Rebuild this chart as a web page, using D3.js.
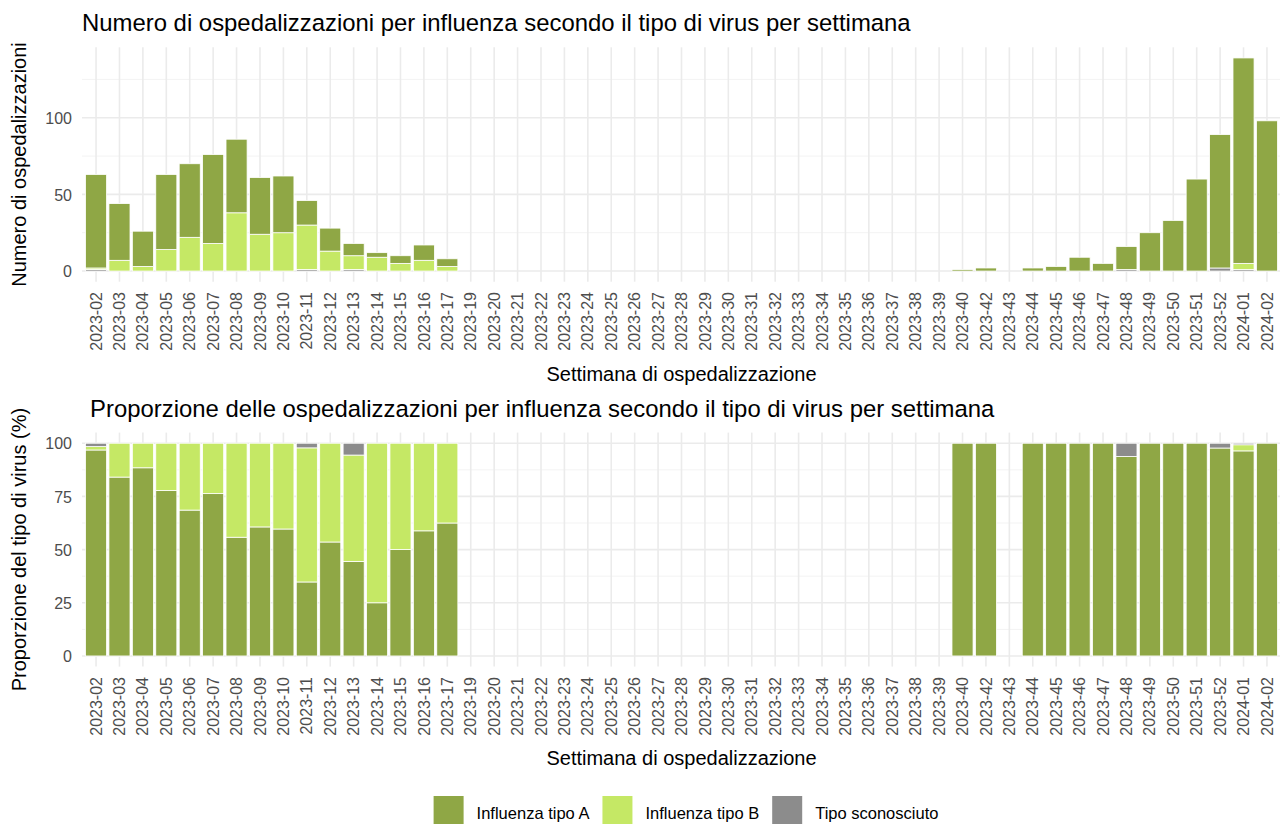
<!DOCTYPE html>
<html>
<head>
<meta charset="utf-8">
<script src="https://cdn.jsdelivr.net/npm/d3@7"></script>
<style>
  html, body { margin: 0; padding: 0; background: #ffffff; }
  svg { display: block; }
  text { font-family: "Liberation Sans", Arial, sans-serif; }
</style>
</head>
<body>
<svg id="chart" width="1280" height="824"></svg>
<script>
// ---------------- DATA ----------------
const weeks = [
  "2023-02","2023-03","2023-04","2023-05","2023-06","2023-07","2023-08","2023-09",
  "2023-10","2023-11","2023-12","2023-13","2023-14","2023-15","2023-16","2023-17",
  "2023-19","2023-20","2023-21","2023-22","2023-23","2023-24","2023-25","2023-26",
  "2023-27","2023-28","2023-29","2023-30","2023-31","2023-32","2023-33","2023-34",
  "2023-35","2023-36","2023-37","2023-38","2023-39","2023-40","2023-42","2023-43",
  "2023-44","2023-45","2023-46","2023-47","2023-48","2023-49","2023-50","2023-51",
  "2023-52","2024-01","2024-02"
];
const influenzaA = [
  61,37,23,49,48,58,48,37,37,16,15,8,3,5,10,5,
  0,0,0,0,0,0,0,0,0,0,0,0,0,0,0,0,0,0,0,0,0,
  1,2,0,2,3,9,5,15,25,33,60,87,134,98
];
const influenzaB = [
  1,7,3,14,22,18,38,24,25,29,13,9,9,5,7,3,
  0,0,0,0,0,0,0,0,0,0,0,0,0,0,0,0,0,0,0,0,0,
  0,0,0,0,0,0,0,0,0,0,0,0,4,0
];
const sconosciuto = [
  1,0,0,0,0,0,0,0,0,1,0,1,0,0,0,0,
  0,0,0,0,0,0,0,0,0,0,0,0,0,0,0,0,0,0,0,0,0,
  0,0,0,0,0,0,0,1,0,0,0,2,1,0
];
const seriesKeys = ["A", "B", "U"];
const seriesLabels = ["Influenza tipo A", "Influenza tipo B", "Tipo sconosciuto"];
const seriesColors = ["#8FA745", "#C5E865", "#8C8C8C"];
const countBreaks = [0, 50, 100];
const countMinor = [25, 75, 125];
const pctBreaks = [0, 25, 50, 75, 100];
const pctMinor = [12.5, 37.5, 62.5, 87.5];
const title1 = "Numero di ospedalizzazioni per influenza secondo il tipo di virus per settimana";
const title2 = "Proporzione delle ospedalizzazioni per influenza secondo il tipo di virus per settimana";
const yTitle1 = "Numero di ospedalizzazioni";
const yTitle2 = "Proporzione del tipo di virus (%)";
const xTitle = "Settimana di ospedalizzazione";

// ---------------- SETUP ----------------
const rows = weeks.map((w, i) => ({ week: w, A: influenzaA[i], B: influenzaB[i], U: sconosciuto[i] }));
const color = d3.scaleOrdinal().domain(seriesKeys).range(seriesColors);
const svg = d3.select("#chart");
const FONT_TICK = 16, FONT_AXIS = 20, FONT_TITLE = 23.9, FONT_LEGEND = 16.5;
const TICK_COLOR = "#4d4d4d";

const x = d3.scaleBand().domain(weeks).range([82, 1281]).paddingInner(0.1).paddingOuter(0.15);

function drawPanel(cfg) {
  const { top, bottom, y, breaks, minor, stacked, titleText, titleX, titleY, yTitleText, xLabelY, xTitleY, fmt } = cfg;
  const g = svg.append("g");
  const [x0, x1] = x.range();
  // minor grid
  g.append("g").selectAll("line").data(minor).join("line")
    .attr("x1", x0).attr("x2", x1).attr("y1", d => y(d)).attr("y2", d => y(d))
    .attr("stroke", "#f3f3f3").attr("stroke-width", 1);
  // major grid horizontal
  g.append("g").selectAll("line").data(breaks).join("line")
    .attr("x1", x0).attr("x2", x1).attr("y1", d => y(d)).attr("y2", d => y(d))
    .attr("stroke", "#ebebeb").attr("stroke-width", 1.6);
  // vertical grid
  g.append("g").selectAll("line").data(weeks).join("line")
    .attr("x1", d => x(d) + x.bandwidth() / 2).attr("x2", d => x(d) + x.bandwidth() / 2)
    .attr("y1", top).attr("y2", bottom)
    .attr("stroke", "#ebebeb").attr("stroke-width", 1.6);

  // bars
  const layer = g.append("g").selectAll("g").data(stacked).join("g")
    .attr("fill", d => color(d.key));
  layer.selectAll("rect").data(d => d.filter(p => p[1] - p[0] > 0)).join("rect")
    .attr("x", d => x(d.data.week))
    .attr("width", x.bandwidth())
    .attr("y", d => y(d[1]))
    .attr("height", d => y(d[0]) - y(d[1]))
    .attr("stroke", "#ffffff").attr("stroke-width", 0.8);

  // y axis
  const ya = g.append("g").attr("transform", "translate(72,0)")
    .call(d3.axisLeft(y).tickValues(breaks).tickSize(0).tickPadding(0).tickFormat(fmt));
  ya.select(".domain").remove();
  ya.selectAll("text").attr("fill", TICK_COLOR).attr("font-size", FONT_TICK)
    .attr("font-family", "Liberation Sans, Arial, sans-serif").attr("dy", "0.35em");

  // x axis
  const xa = g.append("g").attr("transform", `translate(0,${xLabelY})`)
    .call(d3.axisBottom(x).tickSize(0).tickPadding(0));
  xa.select(".domain").remove();
  xa.selectAll("text")
    .attr("y", 0).attr("x", 0).attr("dy", "0.35em")
    .attr("transform", "rotate(-90)")
    .attr("text-anchor", "end")
    .attr("fill", TICK_COLOR).attr("font-size", FONT_TICK)
    .attr("font-family", "Liberation Sans, Arial, sans-serif");

  // titles
  g.append("text").attr("x", titleX).attr("y", titleY).attr("font-size", FONT_TITLE)
    .attr("fill", "#000").text(titleText);
  g.append("text").attr("transform", `translate(${x0 + (x1 - x0) / 2},${xTitleY})`)
    .attr("text-anchor", "middle").attr("font-size", FONT_AXIS).attr("fill", "#000").text(xTitle);
  g.append("text").attr("transform", `translate(26,${(top + bottom) / 2}) rotate(-90)`)
    .attr("text-anchor", "middle").attr("font-size", FONT_AXIS).attr("fill", "#000").text(yTitleText);
}

// ---------------- TOP: counts ----------------
const stackTop = d3.stack().keys(["U", "B", "A"])(rows);
const maxCount = d3.max(rows, d => d.A + d.B + d.U);
const top1 = 47.3, bot1 = 281.7;
const yCount = d3.scaleLinear().domain([-0.05 * maxCount, maxCount * 1.05]).range([bot1, top1]);
drawPanel({
  top: top1, bottom: bot1, y: yCount, breaks: countBreaks, minor: countMinor,
  stacked: stackTop, titleText: title1, titleX: 82, titleY: 31, yTitleText: yTitle1,
  xLabelY: 292, xTitleY: 381, fmt: d3.format("d")
});

// ---------------- BOTTOM: proportions ----------------
const stackPct = d3.stack().keys(["A", "B", "U"]).offset(d3.stackOffsetExpand)(rows);
stackPct.forEach(s => s.forEach(p => { p[0] *= 100; p[1] *= 100; }));
const top2 = 432.6, bot2 = 666.6;
const yPct = d3.scaleLinear().domain([-5, 105]).range([bot2, top2]);
drawPanel({
  top: top2, bottom: bot2, y: yPct, breaks: pctBreaks, minor: pctMinor,
  stacked: stackPct, titleText: title2, titleX: 90, titleY: 417, yTitleText: yTitle2,
  xLabelY: 677, xTitleY: 765, fmt: d3.format("d")
});

// ---------------- LEGEND ----------------
const legend = svg.append("g");
const keyW = 30, keyH = 30, keyGap = 13, itemGap = 13;
const items = legend.selectAll("g").data(seriesKeys).join("g");
items.append("rect").attr("width", keyW).attr("height", keyH).attr("y", 796)
  .attr("fill", d => color(d));
items.append("text").attr("x", keyW + keyGap).attr("y", 813).attr("dy", "0.35em")
  .attr("font-size", FONT_LEGEND).attr("fill", "#000")
  .text((d, i) => seriesLabels[i]);
let cursor = 0;
const offsets = [];
items.each(function () {
  offsets.push(cursor);
  const w = d3.select(this).select("text").node().getComputedTextLength();
  cursor += keyW + keyGap + w + itemGap;
});
const legendW = cursor - itemGap;
const legendX = 686 - legendW / 2;
items.attr("transform", (d, i) => `translate(${legendX + offsets[i]},0)`);
</script>
</body>
</html>
